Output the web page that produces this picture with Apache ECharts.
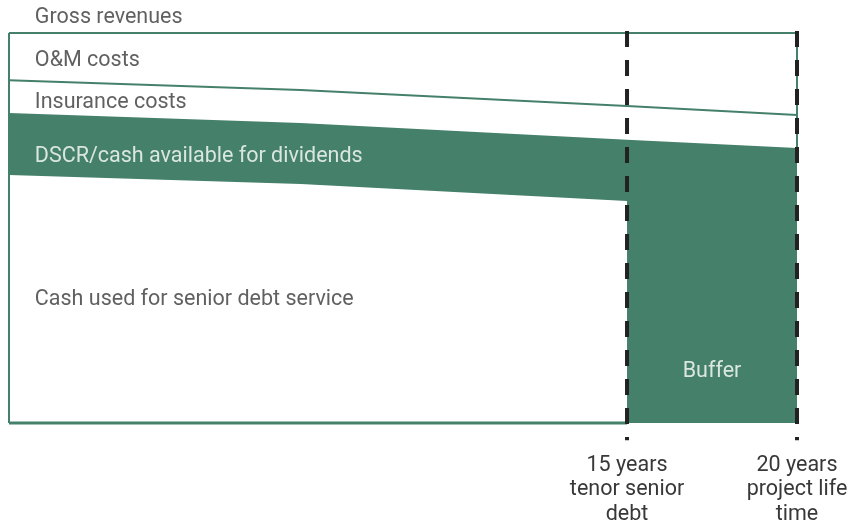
<!DOCTYPE html>
<html><head><meta charset="utf-8">
<script src="https://cdn.jsdelivr.net/npm/echarts@6/dist/echarts.min.js"></script>
<style>html,body{margin:0;padding:0;background:#fff}#c{width:847px;height:525px}</style>
</head><body><div id="c"></div>
<script>
// Schematic timeline (years) and cash-flow levels (index, gross revenues = 100)
const xStart = -3.18;
const years = [xStart, 5.4, 15, 20];
const grossRevenues = [100, 100, 100, 100];
const afterOM = [87.9, 85.4, 81.3, 79.0];
const cfads = [79.5, 76.9, 72.6, 70.5];
const debtYears = [xStart, 5.4, 15];
const debtService = [63.6, 61.3, 56.9];
const tenorYear = 15;
const lifeYear = 20;
const tickYears = [15, 20];
const tickLabels = ['15 years\ntenor senior\ndebt', '20 years\nproject life\ntime'];
const bandNames = ['Gross revenues', 'O&M costs', 'Insurance costs', 'DSCR/cash available for dividends', 'Cash used for senior debt service', 'Buffer'];
const bandLabelX = [-2.42, -2.42, -2.42, -2.42, -2.42, 17.5];
const bandLabelY = [103.9, 92.8, 82.1, 68.2, 31.6, 13.3];

const GREEN = '#45806a';
const TEXT = '#383838';
const FONT = 'Roboto';

const zip = (xs, ys) => xs.map((x, i) => [x, ys[i]]);
const lineSeries = (data, width, z) => ({
  type: 'line', data, symbol: 'none', silent: true, z: z || 3, clip: false,
  lineStyle: { color: GREEN, width: width }
});

const labelWhite = [false, false, false, true, false, true];
const labelData = bandNames.map((n, i) => ({
  value: [bandLabelX[i], bandLabelY[i], n],
  label: {
    position: i === 5 ? 'inside' : 'right',
    distance: 0,
    align: i === 5 ? 'center' : 'left',
    color: labelWhite[i] ? '#ffffff' : TEXT
  }
}));

const chart = echarts.init(document.getElementById('c'), null, { renderer: 'canvas' });
chart.setOption({
  animation: false,
  backgroundColor: '#ffffff',
  grid: { left: 9, right: 50, top: 33, bottom: 102, containLabel: false, outerBoundsMode: 'none' },
  xAxis: {
    type: 'value', min: xStart, max: 20,
    axisLine: { show: false }, axisTick: { show: false }, splitLine: { show: false },
    axisLabel: {
      customValues: tickYears,
      formatter: v => tickLabels[tickYears.indexOf(v)] || '',
      color: TEXT, fontFamily: FONT, fontSize: 21.5, lineHeight: 24.5, margin: 30, align: 'center'
    }
  },
  yAxis: { type: 'value', min: 0, max: 100, show: false },
  series: [
    { type: 'line', data: zip(years, cfads), symbol: 'none', silent: true, z: 1,
      lineStyle: { width: 0 }, areaStyle: { color: GREEN, opacity: 1, origin: 'start' } },
    { type: 'line', data: zip(debtYears, debtService), symbol: 'none', silent: true, z: 2,
      lineStyle: { width: 0 }, areaStyle: { color: '#ffffff', opacity: 1, origin: 'start' } },
    lineSeries(zip(years, grossRevenues), 2),
    lineSeries(zip(years, afterOM), 2),
    lineSeries([[xStart, 0], [xStart, grossRevenues[0]]], 2),
    lineSeries([[xStart, 0], [tenorYear, 0]], 3),
    lineSeries([[lifeYear, grossRevenues[3]], [lifeYear, cfads[3]]], 2),
    { type: 'line', data: [[tenorYear, 100.5], [tenorYear, -4.4]], symbol: 'none', silent: true, z: 4, clip: false,
      lineStyle: { color: '#222222', width: 4, type: [16, 13], cap: 'butt' } },
    { type: 'line', data: [[lifeYear, 100.5], [lifeYear, -4.4]], symbol: 'none', silent: true, z: 4, clip: false,
      lineStyle: { color: '#222222', width: 4, type: [16, 13], cap: 'butt' } },
    { type: 'scatter', data: labelData, symbolSize: 0, silent: true, z: 5, clip: false,
      label: { show: true, formatter: p => p.value[2], fontFamily: FONT, fontSize: 21.5 } }
  ]
});
</script>
</body></html>
